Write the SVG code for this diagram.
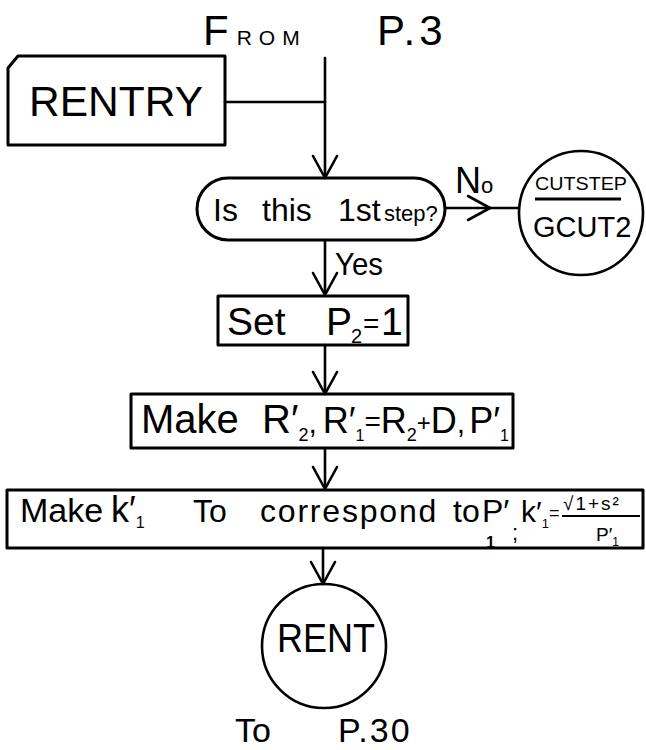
<svg xmlns="http://www.w3.org/2000/svg" width="646" height="750" viewBox="0 0 646 750">
<style>
  .box{fill:none;stroke:#000;stroke-width:3;stroke-linejoin:round}
  .circ{fill:none;stroke:#000;stroke-width:2.6}
  .con{fill:none;stroke:#000;stroke-width:2.6;stroke-linecap:round}
  text{font-family:"Liberation Sans",Arial,sans-serif;fill:#000}
</style>
<defs>
  <marker id="arr" markerUnits="userSpaceOnUse" markerWidth="30" markerHeight="30" refX="22" refY="12" orient="auto" overflow="visible">
    <path d="M0,0 L22,12 L0,24" fill="none" stroke="#000" stroke-width="2.6" stroke-linecap="round" stroke-linejoin="round"/>
  </marker>
</defs>
<rect width="646" height="750" fill="#fff"/>

<g id="from-p3">
  <text x="203" y="45" font-size="42">F<tspan font-size="21" dx="8" letter-spacing="7">ROM</tspan></text>
  <text x="377" y="45" font-size="42" letter-spacing="4">P.3</text>
</g>

<g id="connectors">
  <line class="con" x1="325" y1="58" x2="325" y2="178" marker-end="url(#arr)"/>
  <line class="con" x1="225" y1="102" x2="325" y2="102"/>
  <line class="con" x1="445" y1="208" x2="490" y2="208" marker-end="url(#arr)"/>
  <line class="con" x1="490" y1="208" x2="519" y2="208"/>
  <line class="con" x1="325" y1="240" x2="325" y2="295" marker-end="url(#arr)"/>
  <line class="con" x1="325" y1="345" x2="325" y2="394" marker-end="url(#arr)"/>
  <line class="con" x1="325" y1="448" x2="325" y2="489" marker-end="url(#arr)"/>
  <line class="con" x1="323" y1="548" x2="323" y2="584" marker-end="url(#arr)"/>
  <text x="455" y="193" font-size="36">N<tspan font-size="22">o</tspan></text>
  <text x="335" y="275" font-size="32" textLength="48" lengthAdjust="spacingAndGlyphs">Yes</text>
</g>

<g id="rentry">
  <path class="box" d="M8,68 L18,56 L225,56 L225,145 L8,145 Z"/>
  <text x="29" y="116" font-size="42" textLength="174" lengthAdjust="spacingAndGlyphs">RENTRY</text>
</g>

<g id="first-step">
  <rect class="box" x="197" y="178" width="248" height="62" rx="31" ry="31"/>
  <text y="221" font-size="32"><tspan x="213">Is</tspan><tspan x="262">this</tspan><tspan x="338">1st</tspan><tspan x="384" font-size="22">step?</tspan></text>
</g>

<g id="cutstep">
  <circle class="circ" cx="581" cy="213" r="62"/>
  <text x="535" y="190" font-size="18" textLength="92" lengthAdjust="spacingAndGlyphs">CUTSTEP</text>
  <line x1="535" y1="199" x2="621" y2="199" stroke="#000" stroke-width="3"/>
  <text x="533" y="237" font-size="29">GCUT2</text>
</g>

<g id="set-p2">
  <rect class="box" x="218" y="296" width="190" height="49"/>
  <text y="335" font-size="39"><tspan x="227">Set</tspan><tspan x="326">P</tspan><tspan x="351" y="343" font-size="20">2</tspan><tspan x="363" y="333" font-size="28">=</tspan><tspan x="381" y="335">1</tspan></text>
</g>

<g id="make-r">
  <rect class="box" x="131" y="394" width="382" height="54"/>
  <text y="433" font-size="40"><tspan x="141">Make</tspan><tspan x="262">R′</tspan><tspan dy="8" font-size="18">2</tspan><tspan dy="-8" font-size="30">,</tspan><tspan dx="6" font-size="36">R′</tspan><tspan dy="8" font-size="16">1</tspan><tspan dy="-10" font-size="28">=</tspan><tspan dy="2" font-size="36">R</tspan><tspan dy="8" font-size="18">2</tspan><tspan dy="-10" font-size="24">+</tspan><tspan dy="2" font-size="36">D</tspan><tspan font-size="30">,</tspan><tspan dx="4" font-size="36">P′</tspan><tspan dy="8" font-size="16">1</tspan></text>
</g>

<g id="make-k">
  <rect class="box" x="7" y="490" width="636" height="58"/>
  <text y="522" font-size="34"><tspan x="20">Make</tspan><tspan x="111" font-size="36">k′</tspan><tspan dy="6" font-size="16">1</tspan><tspan x="193" y="522" font-size="32">To</tspan><tspan x="260" y="522" font-size="32" letter-spacing="1.8">correspond</tspan><tspan x="453" y="522" font-size="32">to</tspan><tspan x="482" y="522" font-size="32">P′</tspan></text>
  <text x="486" y="548" font-size="16" font-weight="bold">1</text>
  <text x="512" y="540" font-size="22">;</text>
  <text y="522" font-size="30"><tspan x="521">k′</tspan><tspan dy="6" font-size="13">1</tspan></text>
  <text x="549" y="519" font-size="18">=</text>
  <text x="563" y="510" font-size="19" letter-spacing="2">√1+s²</text>
  <line x1="562" y1="516" x2="640" y2="516" stroke="#000" stroke-width="2"/>
  <text y="541" font-size="19"><tspan x="596">P′</tspan><tspan dy="5" font-size="12">1</tspan></text>
</g>

<g id="rent">
  <circle class="circ" cx="324" cy="646" r="62"/>
  <text x="277" y="652" font-size="40" textLength="98" lengthAdjust="spacingAndGlyphs">RENT</text>
</g>

<g id="to-p30">
  <text x="235" y="742" font-size="34">To</text>
  <text x="338" y="742" font-size="34" letter-spacing="2">P.30</text>
</g>
</svg>
